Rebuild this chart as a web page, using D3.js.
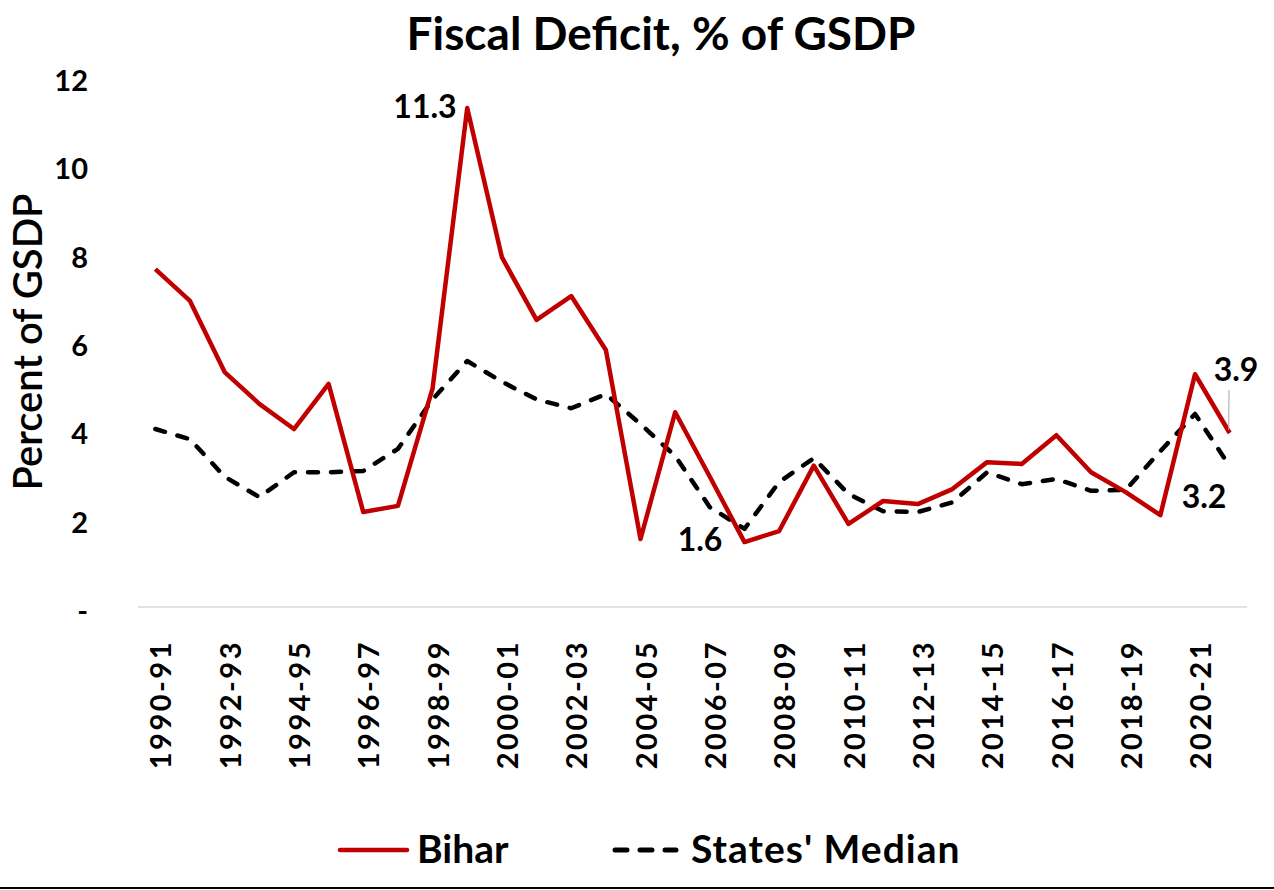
<!DOCTYPE html>
<html>
<head>
<meta charset="utf-8">
<script src="https://cdn.jsdelivr.net/npm/d3@7"></script>
<style>
    body { margin: 0; background: #fff; }
    svg { display: block; font-family: Lato, "Open Sans", sans-serif; }
</style>
</head>
<body>
<div id="chart"></div>
<script>
// Fiscal year categories, 1990-91 .. 2021-22
var years = ["1990-91", "1991-92", "1992-93", "1993-94", "1994-95", "1995-96",
    "1996-97", "1997-98", "1998-99", "1999-00", "2000-01", "2001-02", "2002-03",
    "2003-04", "2004-05", "2005-06", "2006-07", "2007-08", "2008-09", "2009-10",
    "2010-11", "2011-12", "2012-13", "2013-14", "2014-15", "2015-16", "2016-17",
    "2017-18", "2018-19", "2019-20", "2020-21", "2021-22"];

var bihar = [7.65, 6.93, 5.32, 4.6, 4.03, 5.05, 2.15, 2.29, 4.95, 11.3,
    7.92, 6.5, 7.04, 5.82, 1.54, 4.41, 2.95, 1.47, 1.72, 3.2,
    1.88, 2.4, 2.33, 2.67, 3.28, 3.24, 3.89, 3.05, 2.6, 2.08, 5.27, 3.94];

var statesMedian = [4.03, 3.8, 2.95, 2.49, 3.05, 3.05, 3.08, 3.58, 4.7, 5.57,
    5.1, 4.7, 4.5, 4.82, 4.14, 3.42, 2.26, 1.77, 2.83, 3.37,
    2.56, 2.17, 2.15, 2.37, 3.05, 2.78, 2.9, 2.63, 2.65, 3.53, 4.37, 3.19];

var yTicks = [0, 2, 4, 6, 8, 10, 12];

// callout labels
var callouts = [
    {text: "11.3", x: 425, y: 118},
    {text: "1.6", x: 700, y: 551},
    {text: "3.9", x: 1236, y: 381},
    {text: "3.2", x: 1204, y: 508}
];

drawChart();

function drawChart() {
    var svgWidth = 1274, svgHeight = 890;
    var plotLeft = 138, plotRight = 1247, plotTop = 77, plotBottom = 607;

    var svg = d3.select("#chart").append("svg")
        .attr("width", svgWidth)
        .attr("height", svgHeight);

    var x = d3.scalePoint().domain(years).range([plotLeft, plotRight]).padding(0.5);
    var y = d3.scaleLinear().domain([0, 12]).range([plotBottom, plotTop]);

    // title
    svg.append("text")
        .attr("x", 661)
        .attr("y", 50)
        .attr("text-anchor", "middle")
        .attr("font-size", 46)
        .attr("font-weight", "bold")
        .text("Fiscal Deficit, % of GSDP");

    // baseline
    svg.append("line")
        .attr("x1", plotLeft).attr("x2", plotRight)
        .attr("y1", y(0)).attr("y2", y(0))
        .attr("stroke", "#d9d9d9")
        .attr("stroke-width", 1.5);

    // y axis labels
    svg.append("g").selectAll("text")
        .data(yTicks)
        .enter()
        .append("text")
        .attr("x", 88)
        .attr("y", function (d) { return y(d) + 4; })
        .attr("dy", "0.35em")
        .attr("text-anchor", "end")
        .attr("font-size", 29)
        .attr("font-weight", "bold")
        .text(function (d) { return d === 0 ? "-" : d; });

    svg.append("text")
        .attr("transform", "translate(42,342) rotate(-90)")
        .attr("text-anchor", "middle")
        .attr("font-size", 40)
        .attr("font-weight", 600)
        .text("Percent of GSDP");

    // x axis labels, every other year
    svg.append("g").selectAll("text")
        .data(years.filter(function (d, i) { return i % 2 === 0; }))
        .enter()
        .append("text")
        .attr("transform", function (d) {
            return "translate(" + (x(d) + 6) + ",640) rotate(-90)";
        })
        .attr("dy", "0.35em")
        .attr("text-anchor", "end")
        .attr("font-size", 29)
        .attr("font-weight", "bold")
        .attr("letter-spacing", 2.5)
        .text(function (d) { return d; });

    var line = d3.line()
        .x(function (d, i) { return x(years[i]); })
        .y(function (d) { return y(d); });

    svg.append("path")
        .datum(statesMedian)
        .attr("fill", "none")
        .attr("stroke", "#000")
        .attr("stroke-width", 4.5)
        .attr("stroke-linecap", "round")
        .attr("stroke-linejoin", "round")
        .attr("stroke-dasharray", "10,13")
        .attr("d", line);

    svg.append("path")
        .datum(bihar)
        .attr("fill", "none")
        .attr("stroke", "#c00000")
        .attr("stroke-width", 4.5)
        .attr("stroke-linejoin", "round")
        .attr("d", line);

    // leader line for last Bihar value
    svg.append("line")
        .attr("x1", 1229).attr("y1", 390)
        .attr("x2", x(years[31]) - 1).attr("y2", y(bihar[31]) - 3)
        .attr("stroke", "#a6a6a6")
        .attr("stroke-width", 1);

    svg.append("g").selectAll("text")
        .data(callouts)
        .enter()
        .append("text")
        .attr("x", function (d) { return d.x; })
        .attr("y", function (d) { return d.y; })
        .attr("text-anchor", "middle")
        .attr("font-size", 32)
        .attr("font-weight", "bold")
        .text(function (d) { return d.text; });

    // legend
    var legend = svg.append("g");
    legend.append("line")
        .attr("x1", 340).attr("x2", 407)
        .attr("y1", 850).attr("y2", 850)
        .attr("stroke", "#c00000")
        .attr("stroke-width", 4.5)
        .attr("stroke-linecap", "round");
    legend.append("text")
        .attr("x", 417).attr("y", 863)
        .attr("font-size", 39)
        .attr("font-weight", "bold")
        .text("Bihar");
    legend.append("line")
        .attr("x1", 615).attr("x2", 676)
        .attr("y1", 850).attr("y2", 850)
        .attr("stroke", "#000")
        .attr("stroke-width", 5)
        .attr("stroke-linecap", "round")
        .attr("stroke-dasharray", "12,13");
    legend.append("text")
        .attr("x", 691).attr("y", 863)
        .attr("font-size", 39)
        .attr("font-weight", "bold")
        .attr("letter-spacing", 1)
        .text("States' Median");

    // bottom border
    svg.append("line")
        .attr("x1", 0).attr("x2", svgWidth)
        .attr("y1", 888).attr("y2", 888)
        .attr("stroke", "#000")
        .attr("stroke-width", 2);
}
</script>
</body>
</html>
